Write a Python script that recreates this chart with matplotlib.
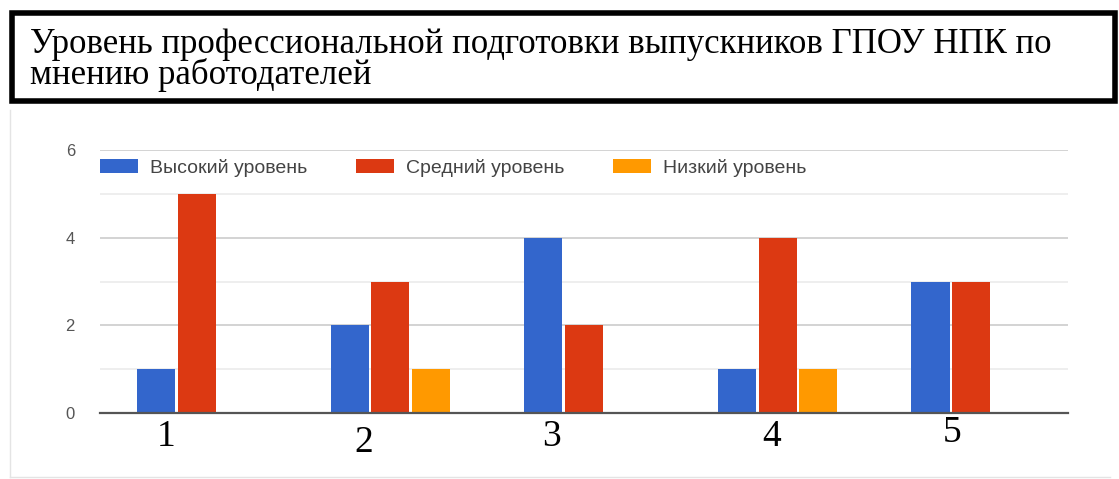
import numpy as np
import matplotlib
matplotlib.use("Agg")
import matplotlib.pyplot as plt
from matplotlib.patches import Rectangle
from matplotlib.lines import Line2D
from matplotlib.ticker import MultipleLocator

# данные
title = "Уровень профессиональной подготовки выпускников ГПОУ НПК по\nмнению работодателей"
groups = ["1", "2", "3", "4", "5"]
series_names = ["Высокий уровень", "Средний уровень", "Низкий уровень"]
high = [1, 2, 4, 1, 3]
mid = [5, 3, 2, 4, 3]
low = [0, 1, 0, 1, 0]
yticks = [0, 2, 4, 6]

colors = ["#3366cc", "#dc3912", "#ff9900"]

W, H = 1119, 479
fig = plt.figure(figsize=(W / 100, H / 100), dpi=100)

# рамка заголовка
fig.patches.append(Rectangle((12 / W, 1 - 101 / H), 1103 / W, 88 / H,
                             transform=fig.transFigure, fill=False,
                             edgecolor="black", linewidth=4))
fig.text(30 / W, 1 - 60 / H, title, ha="left", va="center",
         family="Liberation Serif", fontsize=25, linespacing=0.92)

# светлая рамка вокруг диаграммы
fig.lines.append(Line2D([10 / W, 10 / W], [1 - 110 / H, 1 - 477 / H],
                        transform=fig.transFigure, color="#e4e4e4", lw=1))
fig.lines.append(Line2D([10 / W, 1110 / W], [1 - 477 / H, 1 - 477 / H],
                        transform=fig.transFigure, color="#e4e4e4", lw=1))

ax = fig.add_axes([100 / W, 1 - 413 / H, 968 / W, 263 / H])
x = np.arange(len(groups))
bw = 0.197
step = 0.21
for i, (vals, c, name) in enumerate(zip([high, mid, low], colors, series_names)):
    ax.bar(x + (i - 1) * step, vals, width=bw, color=c, label=name, zorder=3)

ax.set_xlim(-0.5, len(groups) - 0.5)
ax.set_ylim(0, 6)
ax.set_yticks(yticks)
ax.yaxis.set_minor_locator(MultipleLocator(1))
ax.grid(axis="y", which="major", color="#cccccc", lw=1.2, zorder=0)
ax.grid(axis="y", which="minor", color="#ebebeb", lw=1.2, zorder=0)
ax.tick_params(axis="y", which="both", length=0, pad=18, labelsize=12,
               labelcolor="#555555")
for lab in ax.get_yticklabels():
    lab.set_family("Liberation Sans")
ax.set_xticks([])
for s in ["top", "right", "left"]:
    ax.spines[s].set_visible(False)
ax.spines["bottom"].set_color("#555555")
ax.spines["bottom"].set_linewidth(1.6)
ax.spines["bottom"].set_zorder(4)

# подписи групп (вставлены вручную, смещены)
dx = [-0.16, -0.14, -0.17, -0.03, -0.10]
dy = [24, 30, 24, 24, 20]
for i, g in enumerate(groups):
    ax.annotate(g, (x[i] + dx[i], 0), xycoords="data",
                xytext=(0, -dy[i] * 0.72), textcoords="offset points",
                ha="center", va="center", family="Liberation Serif",
                fontsize=27, color="black", annotation_clip=False)

leg = ax.legend(loc="center left", bbox_to_anchor=(0, 0.932), ncol=3,
                frameon=False, borderaxespad=0, borderpad=0,
                handlelength=1.95, handleheight=0.67, handletextpad=0.62,
                columnspacing=2.5, prop={"family": "Liberation Sans", "size": 14})
for t in leg.get_texts():
    t.set_color("#444444")

fig.savefig("out.png", dpi=100)
